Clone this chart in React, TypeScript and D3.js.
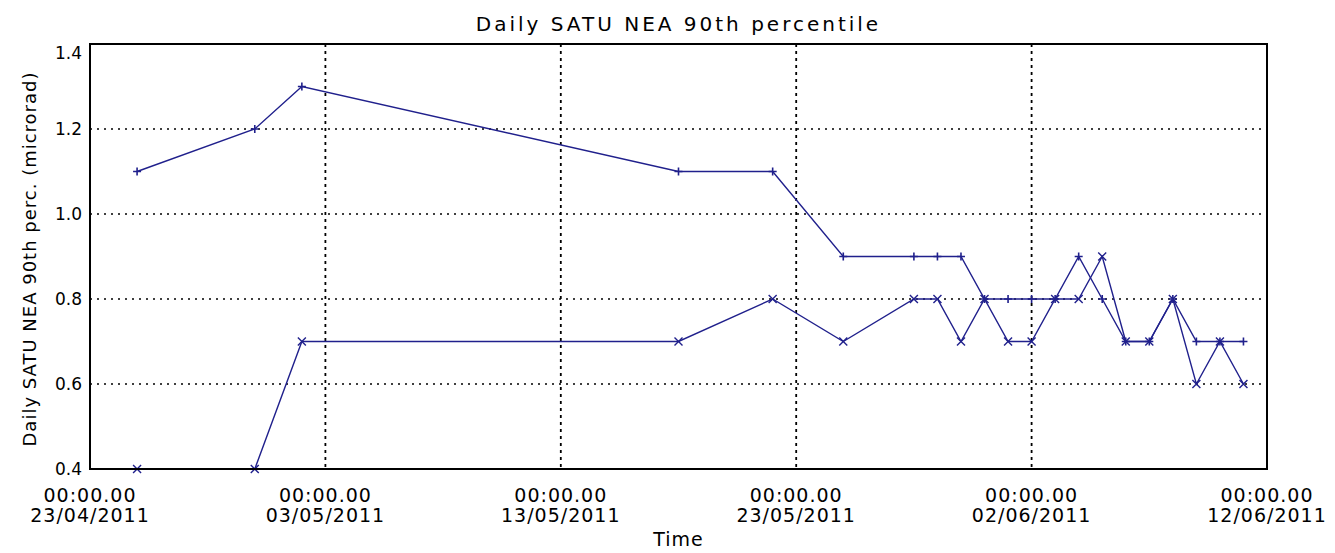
import { useEffect, useRef } from 'react';
import * as d3 from 'd3';

// daily values
const days = [
  '2011-04-25', '2011-04-30', '2011-05-02', '2011-05-18', '2011-05-22',
  '2011-05-25', '2011-05-28', '2011-05-29', '2011-05-30', '2011-05-31',
  '2011-06-01', '2011-06-02', '2011-06-03', '2011-06-04', '2011-06-05',
  '2011-06-06', '2011-06-07', '2011-06-08', '2011-06-09', '2011-06-10',
  '2011-06-11',
];
const plusSeries = [
  1.1, 1.2, 1.3, 1.1, 1.1, 0.9, 0.9, 0.9, 0.9, 0.8, 0.8, 0.8, 0.8, 0.9, 0.8,
  0.7, 0.7, 0.8, 0.7, 0.7, 0.7,
];
const crossSeries = [
  0.4, 0.4, 0.7, 0.7, 0.8, 0.7, 0.8, 0.8, 0.7, 0.8, 0.7, 0.7, 0.8, 0.8, 0.9,
  0.7, 0.7, 0.8, 0.6, 0.7, 0.6,
];
const xTicks = ['2011-04-23', '2011-05-03', '2011-05-13', '2011-05-23', '2011-06-02', '2011-06-12'];
const yTicks = [0.4, 0.6, 0.8, 1.0, 1.2, 1.4];

const W = 1335;
const H = 553;
const m = { left: 90, right: 68, top: 44, bottom: 84 };
const lineColor = '#20208c';
const font = 'DejaVu Sans, sans-serif';

const parse = d3.utcParse('%Y-%m-%d');
const fmtDate = d3.utcFormat('%d/%m/%Y');

const render = (svgEl: SVGSVGElement) => {
  const svg = d3.select(svgEl);
  svg.selectAll('*').remove();

  const x = d3
    .scaleUtc()
    .domain([parse(xTicks[0])!, parse(xTicks[xTicks.length - 1])!])
    .range([m.left, W - m.right]);
  const y = d3.scaleLinear().domain([0.4, 1.4]).range([H - m.bottom, m.top]);

  const g = svg.append('g');

  // grid
  g.selectAll('line.hgrid')
    .data(yTicks.slice(1, -1))
    .enter()
    .append('line')
    .attr('x1', m.left)
    .attr('x2', W - m.right)
    .attr('y1', (d) => y(d))
    .attr('y2', (d) => y(d))
    .attr('stroke', '#000')
    .attr('stroke-width', 1.6)
    .attr('stroke-dasharray', '2,5');
  g.selectAll('line.vgrid')
    .data(xTicks.slice(1, -1))
    .enter()
    .append('line')
    .attr('x1', (d) => x(parse(d)!))
    .attr('x2', (d) => x(parse(d)!))
    .attr('y1', m.top)
    .attr('y2', H - m.bottom)
    .attr('stroke', '#000')
    .attr('stroke-width', 1.8)
    .attr('stroke-dasharray', '3,4');

  // series
  const line = d3
    .line<number>()
    .x((_, i) => x(parse(days[i])!))
    .y((d) => y(d));
  [plusSeries, crossSeries].forEach((s) => {
    g.append('path')
      .attr('d', line(s))
      .attr('fill', 'none')
      .attr('stroke', lineColor)
      .attr('stroke-width', 1.4);
  });

  const r = 4;
  plusSeries.forEach((v, i) => {
    const cx = x(parse(days[i])!);
    const cy = y(v);
    g.append('path')
      .attr('d', `M${cx - r},${cy}H${cx + r}M${cx},${cy - r}V${cy + r}`)
      .attr('stroke', lineColor)
      .attr('stroke-width', 1.6);
  });
  crossSeries.forEach((v, i) => {
    const cx = x(parse(days[i])!);
    const cy = y(v);
    g.append('path')
      .attr('d', `M${cx - r},${cy - r}L${cx + r},${cy + r}M${cx - r},${cy + r}L${cx + r},${cy - r}`)
      .attr('stroke', lineColor)
      .attr('stroke-width', 1.4);
  });

  // frame
  g.append('rect')
    .attr('x', m.left)
    .attr('y', m.top)
    .attr('width', W - m.left - m.right)
    .attr('height', H - m.top - m.bottom)
    .attr('fill', 'none')
    .attr('stroke', '#000')
    .attr('stroke-width', 2);

  // y tick labels
  g.selectAll('text.ytick')
    .data(yTicks)
    .enter()
    .append('text')
    .attr('x', m.left - 8)
    .attr('y', (d, i) => y(d) + (i === yTicks.length - 1 ? 9 : 0))
    .attr('dy', '0.35em')
    .attr('text-anchor', 'end')
    .attr('font-family', font)
    .attr('font-size', 17)
    .text((d) => d.toFixed(1));

  // x tick labels
  const xl = g
    .selectAll('text.xtick')
    .data(xTicks)
    .enter()
    .append('text')
    .attr('text-anchor', 'middle')
    .attr('font-family', font)
    .attr('font-size', 19)
    .attr('letter-spacing', 1);
  xl.append('tspan')
    .attr('x', (d) => x(parse(d)!))
    .attr('y', H - m.bottom + 33)
    .text('00:00.00');
  xl.append('tspan')
    .attr('x', (d) => x(parse(d)!))
    .attr('y', H - m.bottom + 53)
    .text((d) => fmtDate(parse(d)!));

  // titles
  g.append('text')
    .attr('x', (m.left + W - m.right) / 2)
    .attr('y', 31)
    .attr('text-anchor', 'middle')
    .attr('font-family', font)
    .attr('font-size', 20)
    .attr('letter-spacing', 3)
    .text('Daily SATU NEA 90th percentile');
  g.append('text')
    .attr('x', (m.left + W - m.right) / 2)
    .attr('y', 546)
    .attr('text-anchor', 'middle')
    .attr('font-family', font)
    .attr('font-size', 19)
    .attr('letter-spacing', 1)
    .text('Time');
  g.append('text')
    .attr('transform', `translate(36,${(70 + 448) / 2}) rotate(-90)`)
    .attr('text-anchor', 'middle')
    .attr('font-family', font)
    .attr('font-size', 18)
    .attr('letter-spacing', 1)
    .text('Daily SATU NEA 90th perc. (microrad)');
};

export default function App() {
  const ref = useRef<SVGSVGElement>(null);
  useEffect(() => {
    if (ref.current) render(ref.current);
  }, []);
  return (
    <svg
      ref={ref}
      width={W}
      height={H}
      style={{ position: 'absolute', left: 0, top: 0, background: '#fff' }}
    />
  );
}
